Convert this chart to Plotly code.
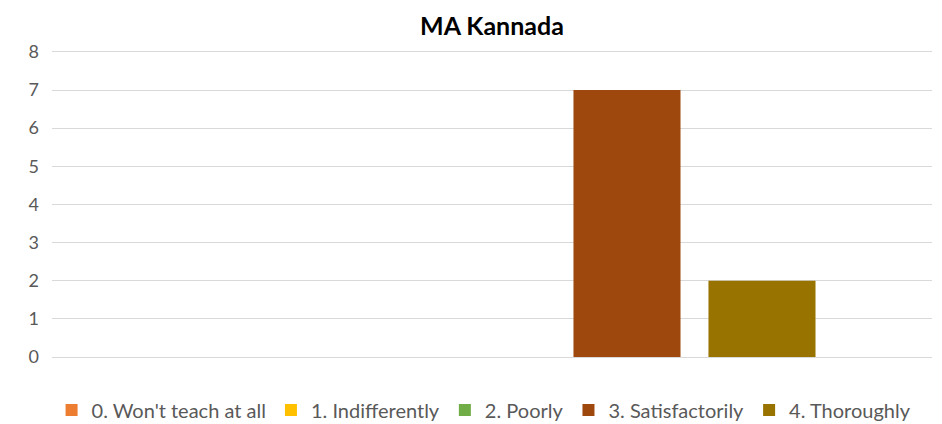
import plotly.graph_objects as go

categories = ["MA Kannada"]
series_names = ["0. Won't teach at all", "1. Indifferently", "2. Poorly", "3. Satisfactorily", "4. Thoroughly"]
series_values = [[0], [0], [0], [7], [2]]
series_colors = ["#ED7D31", "#FFC000", "#70AD47", "#9E480E", "#997300"]
y_ticks = [0, 1, 2, 3, 4, 5, 6, 7, 8]

fig = go.Figure()
for name, vals, col in zip(series_names, series_values, series_colors):
    fig.add_trace(go.Bar(x=categories, y=vals, name=name, marker_color=col, marker_line_width=0))

FONT = "Lato, Open Sans"
fig.update_layout(
    width=934, height=416,
    margin=dict(l=44, r=10, t=42, b=67, autoexpand=False),
    paper_bgcolor="white", plot_bgcolor="white",
    barmode="group", bargap=0.233, bargroupgap=0.207,
    title=dict(text="<b>MA Kannada</b>", x=0.5, xanchor="center", xref="paper",
               yref="container", y=0.957, yanchor="middle",
               font=dict(family=FONT, size=25, color="#000000")),
    font=dict(family=FONT, color="#595959", size=18),
    legend=dict(orientation="h", x=0.491, xanchor="center", y=-0.173, yanchor="middle",
                font=dict(family=FONT, size=20, color="#595959"), itemwidth=30, tracegroupgap=0),
    xaxis=dict(showticklabels=False, showgrid=False, showline=False, zeroline=False),
    yaxis=dict(range=[0, 8.05], tickvals=y_ticks, showgrid=True, gridcolor="#D9D9D9", gridwidth=1,
               zeroline=True, zerolinecolor="#D9D9D9", zerolinewidth=1, showline=False,
               automargin=False, ticks="", ticklabelstandoff=12,
               tickfont=dict(family=FONT, size=18, color="#595959")),
)
fig.write_html("out.html")
